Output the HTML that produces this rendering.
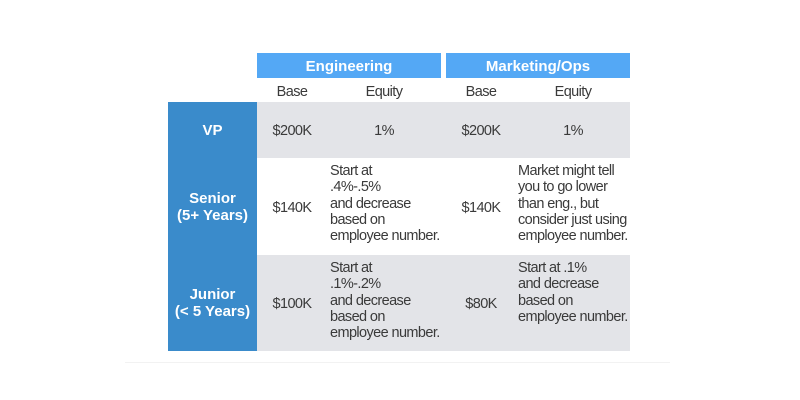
<!DOCTYPE html>
<html><head><style>
body{margin:0;width:800px;height:400px;background:#fff;position:relative;font-family:"Liberation Sans",sans-serif;color:#3a3a3a;overflow:hidden}
.a{position:absolute}
.h{background:#54a8f5;color:#fff;font-weight:bold;font-size:15px;text-align:center;line-height:27px;top:53px;height:25px;overflow:hidden}
.l{background:#3a8bcb;left:168px;width:89px;color:#fff;font-weight:bold;font-size:15px;text-align:center;display:flex;align-items:center;justify-content:center;line-height:17px}
.g{background:#e3e4e8;left:257px;width:373px}
.t{font-size:14.5px;line-height:16.3px;letter-spacing:-0.6px;white-space:nowrap}
.c{text-align:center;width:60px}
</style></head><body>
<div class="a h" style="left:257px;width:184px">Engineering</div>
<div class="a h" style="left:446px;width:184px">Marketing/Ops</div>
<div class="a t c" style="left:262px;top:84px">Base</div>
<div class="a t c" style="left:354px;top:84px">Equity</div>
<div class="a t c" style="left:451px;top:84px">Base</div>
<div class="a t c" style="left:543px;top:84px">Equity</div>
<div class="a g" style="top:102px;height:56px"></div>
<div class="a g" style="top:255px;height:96px"></div>
<div class="a l" style="top:102px;height:56px">VP</div>
<div class="a l" style="top:158px;height:97px">Senior<br>(5+ Years)</div>
<div class="a l" style="top:255px;height:96px">Junior<br>(&lt; 5 Years)</div>
<div class="a t c" style="left:262px;top:123px">$200K</div>
<div class="a t c" style="left:354px;top:123px">1%</div>
<div class="a t c" style="left:451px;top:123px">$200K</div>
<div class="a t c" style="left:543px;top:123px">1%</div>
<div class="a t c" style="left:262px;top:200px">$140K</div>
<div class="a t" style="left:330px;top:163px">Start at<br>.4%-.5%<br>and decrease<br>based on<br>employee number.</div>
<div class="a t c" style="left:451px;top:200px">$140K</div>
<div class="a t" style="left:518px;top:163px">Market might tell<br>you to go lower<br>than eng., but<br>consider just using<br>employee number.</div>
<div class="a t c" style="left:262px;top:296px">$100K</div>
<div class="a t" style="left:330px;top:260px">Start at<br>.1%-.2%<br>and decrease<br>based on<br>employee number.</div>
<div class="a t c" style="left:451px;top:296px">$80K</div>
<div class="a t" style="left:518px;top:260px">Start at .1%<br>and decrease<br>based on<br>employee number.</div>
<div class="a" style="left:125px;top:362px;width:545px;height:1px;background:#f2f2f2"></div>
</body></html>
